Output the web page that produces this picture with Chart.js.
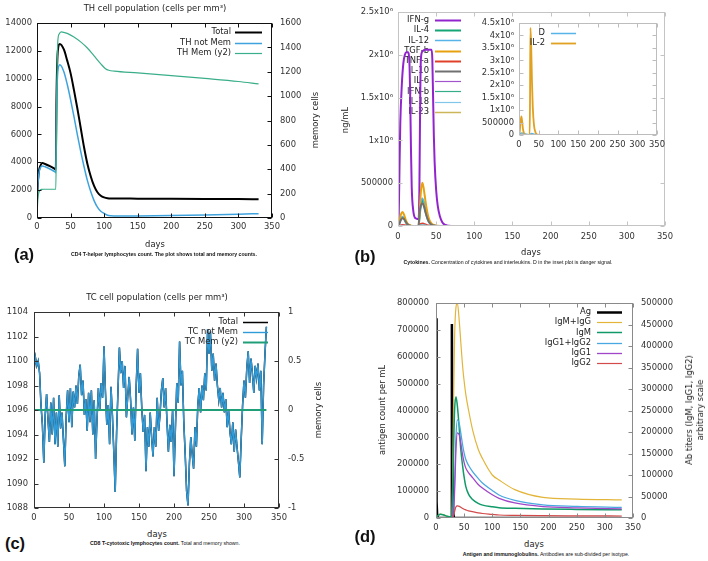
<!DOCTYPE html>
<html>
<head>
<meta charset="utf-8">
<title>C-ImmSim panels</title>
<script src="https://cdn.jsdelivr.net/npm/chart.js@4.4.1/dist/chart.umd.min.js"></script>
<style>
  body { margin: 0; background: #fff; width: 708px; height: 561px; position: relative; overflow: hidden; }
  canvas { position: absolute; }
  .lb { position: absolute; white-space: nowrap; transform: translate(-50%, -50%); font: 8.4px "DejaVu Sans", sans-serif; color: #222; }
  .rot { transform: translate(-50%, -50%) rotate(-90deg); text-align: center; line-height: 11px; }
  .pl { position: absolute; transform: translate(-50%, -50%); font: bold 16.5px "Liberation Sans", Arial, sans-serif; color: #111; }
  .cap { position: absolute; white-space: nowrap; transform: translate(-50%, -50%); font: 5.2px "Liberation Sans", Arial, sans-serif; color: #111; }
</style>
</head>
<body>

<canvas id="chA" width="310" height="240" style="left:0;top:0"></canvas>
<canvas id="chB" width="330" height="245" style="left:354px;top:0"></canvas>
<canvas id="chBin" width="200" height="145" style="left:470px;top:10px"></canvas>
<canvas id="chC" width="330" height="240" style="left:0;top:285px"></canvas>
<canvas id="chD" width="354" height="250" style="left:354px;top:285px"></canvas>

<!-- panel (a) texts -->
<div class="lb" style="left:155px;top:8px">TH cell population (cells per mm³)</div>
<div class="lb" style="left:155px;top:244px">days</div>
<div class="lb rot" style="left:315px;top:120px">memory cells</div>
<div class="pl" style="left:24px;top:254px">(a)</div>
<div class="cap" style="left:164px;top:254px"><b>CD4 T-helper lymphocytes count. The plot shows total and memory counts.</b></div>

<!-- panel (b) texts -->
<div class="lb" style="left:531px;top:252px">days</div>
<div class="lb rot" style="left:345px;top:120px">ng/mL</div>
<div class="pl" style="left:365px;top:256px">(b)</div>
<div class="cap" style="left:508px;top:262px"><b>Cytokines.</b> Concentration of cytokines and interleukins. D in the inset plot is danger signal.</div>

<!-- panel (c) texts -->
<div class="lb" style="left:157px;top:297px">TC cell population (cells per mm³)</div>
<div class="lb" style="left:157px;top:534px">days</div>
<div class="lb rot" style="left:318px;top:410px">memory cells</div>
<div class="pl" style="left:15px;top:543px">(c)</div>
<div class="cap" style="left:165px;top:543px"><b>CD8 T-cytotoxic lymphocytes count.</b> Total and memory shown.</div>

<!-- panel (d) texts -->
<div class="lb" style="left:534px;top:544px">days</div>
<div class="lb rot" style="left:382px;top:410px">antigen count per mL</div>
<div class="lb rot" style="left:695px;top:410px">Ab titers (IgM, IgG1, IgG2)<br>arbitrary scale</div>
<div class="pl" style="left:365px;top:536px">(d)</div>
<div class="cap" style="left:546px;top:554px"><b>Antigen and immunoglobulins.</b> Antibodies are sub-divided per isotype.</div>

<script>
// ---------- (a) TH cell population ----------
const thDays   = [0, 1, 3, 5, 8, 12, 20, 27, 28, 29, 31, 34, 40, 45, 50, 55, 60, 65, 70, 75, 80, 85, 90, 95, 100, 105, 110, 120, 150, 200, 250, 300, 330];
const thTotal  = [1300, 2300, 3400, 3750, 3950, 3880, 3700, 3500, 3450, 8500, 12000, 12500, 12100, 11300, 10400, 9200, 7900, 6500, 5100, 3900, 3000, 2300, 1850, 1600, 1480, 1420, 1400, 1395, 1390, 1380, 1370, 1360, 1350];
const thNotMem = [1300, 2200, 3250, 3600, 3730, 3680, 3500, 3300, 3250, 7500, 10500, 11000, 10500, 9600, 8500, 7300, 6000, 4800, 3700, 2700, 1900, 1250, 780, 480, 330, 200, 160, 140, 150, 180, 220, 270, 310];
const thMemDays = [0, 1, 2, 4, 7, 10, 28, 29, 30, 31, 33, 36, 45, 55, 65, 75, 85, 95, 102, 107, 115, 150, 200, 250, 300, 330];
const thMem     = [0, 130, 190, 225, 235, 236, 236, 700, 1200, 1450, 1510, 1528, 1515, 1485, 1445, 1395, 1330, 1265, 1225, 1212, 1205, 1190, 1168, 1145, 1120, 1100];

// ---------- (b) cytokines ----------
const ifngDays = [0, 1, 2, 3, 5, 7, 9, 11, 13, 15, 16, 17, 18, 20, 23, 27, 28, 29, 30, 32, 36, 40, 44, 45, 46, 47, 48, 50, 52, 55, 58, 62, 66, 70, 330];
const ifng     = [0, 150000, 700000, 1200000, 1650000, 1900000, 2000000, 2030000, 2030000, 1900000, 1500000, 900000, 450000, 180000, 90000, 80000, 400000, 1400000, 1950000, 2040000, 2060000, 2060000, 2060000, 1950000, 1500000, 1050000, 750000, 420000, 240000, 110000, 45000, 12000, 2000, 0, 0];
const cytoDays = [0, 2, 4, 6, 8, 10, 12, 15, 20, 27, 28, 30, 32, 34, 36, 38, 40, 43, 47, 52, 60, 330];
const il4  = [0, 40000, 85000, 100000, 85000, 50000, 22000, 7000, 0, 0, 80000, 250000, 305000, 260000, 175000, 110000, 60000, 22000, 5000, 1000, 0, 0];
const il12 = [0, 50000, 95000, 110000, 90000, 55000, 25000, 8000, 0, 0, 90000, 270000, 325000, 280000, 190000, 120000, 65000, 25000, 6000, 1000, 0, 0];
const tgfb = [0, 60000, 140000, 165000, 130000, 75000, 35000, 10000, 0, 0, 120000, 400000, 505000, 420000, 290000, 180000, 100000, 40000, 10000, 2000, 0, 0];
const tnfa = [0, 5000, 10000, 12000, 10000, 6000, 3000, 1000, 0, 0, 10000, 25000, 30000, 25000, 18000, 10000, 6000, 2000, 500, 0, 0, 0];
const il10 = [0, 30000, 75000, 90000, 80000, 50000, 25000, 8000, 0, 0, 140000, 240000, 265000, 230000, 160000, 100000, 55000, 20000, 5000, 1000, 0, 0];
const il6  = [0, 3000, 6000, 8000, 6000, 4000, 2000, 500, 0, 0, 6000, 15000, 18000, 15000, 10000, 6000, 3000, 1000, 0, 0, 0, 0];
const ifnb = [0, 2000, 4000, 5000, 4000, 2500, 1000, 300, 0, 0, 4000, 10000, 12000, 10000, 7000, 4000, 2000, 500, 0, 0, 0, 0];
const il18 = [0, 2000, 5000, 6000, 5000, 3000, 1500, 400, 0, 0, 5000, 12000, 15000, 12000, 8000, 5000, 2500, 800, 0, 0, 0, 0];
const il23 = [0, 1000, 2000, 3000, 2000, 1000, 500, 0, 0, 0, 2000, 5000, 6000, 5000, 3000, 2000, 1000, 0, 0, 0, 0, 0];
// inset
const il2Days = [0, 2, 4, 6, 8, 10, 13, 17, 27, 28, 29, 31, 33, 35, 38, 42, 47, 55, 330];
const il2     = [0, 150000, 550000, 750000, 550000, 250000, 60000, 5000, 0, 1500000, 4300000, 3500000, 2100000, 1100000, 400000, 100000, 15000, 0, 0];
const dDays   = [0, 3, 8, 15, 25, 28, 31, 36, 45, 60, 330];
const dSignal = [0, 60000, 80000, 40000, 10000, 5000, 60000, 40000, 8000, 0, 0];

// ---------- (c) TC cell population, one value every 2 days ----------
const tcNotMem = [
  1099.2, 1100.3, 1099.6, 1100.0, 1099.0, 1096.4, 1094.8, 1091.7, 1095.6, 1097.3,
  1095.2, 1093.4, 1096.6, 1094.0, 1097.0, 1093.2, 1095.8, 1093.0, 1097.2, 1094.5,
  1095.8, 1093.6, 1091.4, 1095.5, 1097.6, 1095.0, 1097.8, 1094.6, 1097.5, 1096.2,
  1098.0, 1096.5, 1098.8, 1099.7, 1097.2, 1098.4, 1095.6, 1096.9, 1094.3, 1097.4,
  1095.0, 1097.6, 1094.0, 1096.8, 1092.0, 1095.2, 1097.8, 1096.0, 1098.2, 1097.0,
  1101.2, 1097.6, 1094.8, 1096.4, 1093.2, 1097.9, 1095.6, 1092.6, 1089.3, 1094.2,
  1097.6, 1101.1, 1099.0, 1100.0, 1097.8, 1099.6, 1095.4, 1097.2, 1098.7, 1096.8,
  1094.0, 1096.2, 1093.5, 1098.0, 1101.0, 1097.4, 1099.0, 1096.1, 1094.2, 1095.6,
  1091.0, 1094.6, 1093.0, 1095.8, 1093.8, 1092.2, 1094.6, 1093.0, 1097.0, 1094.3,
  1095.6, 1097.6, 1098.6, 1096.2, 1097.8, 1095.0, 1092.6, 1094.8, 1093.4, 1096.0,
  1090.6, 1094.5, 1098.2, 1096.6, 1101.6, 1098.0, 1099.2, 1095.0, 1092.4, 1089.4,
  1088.2, 1091.6, 1093.8, 1092.4, 1091.2, 1094.6, 1093.0, 1096.4, 1097.8, 1095.8,
  1098.0, 1096.8, 1099.0, 1097.6, 1102.6, 1100.6, 1102.4, 1099.2, 1100.6, 1098.4,
  1099.8, 1098.0, 1096.8, 1097.8, 1096.2, 1097.4, 1095.8, 1096.9, 1094.6, 1096.0,
  1094.2, 1093.2, 1095.0, 1092.6, 1094.4, 1093.0, 1091.8, 1090.5, 1093.6, 1096.4,
  1098.4, 1097.0, 1099.4, 1100.8, 1098.2, 1100.2, 1099.0, 1097.4, 1099.6, 1098.6,
  1099.8, 1097.6, 1099.2, 1093.2, 1098.0, 1100.6, 1102.8
];
const tcDays = tcNotMem.map((v, i) => i * 2);
const tcTotal = tcNotMem;            // memory count is zero, so total = not-memory
const tcMemDays = [0, 332];
const tcMem = [0, 0];

// ---------- (d) antigen and immunoglobulins ----------
const agDays = [0, 0.5, 1, 1.5, 2, 3, 27.8, 28.2, 28.8, 29.5, 30.5, 32, 330];
const ag     = [743000, 480000, 200000, 60000, 12000, 0, 0, 722000, 420000, 120000, 20000, 0, 0];
const igDays = [0, 4, 8, 14, 20, 27, 29, 31, 33, 35.5, 38, 41.5, 44, 47.5, 50, 53, 58, 65, 75, 83, 100, 112, 140, 190, 250, 330];
const igSum  = [0, 6000, 9000, 7000, 4000, 2500, 40000, 250000, 420000, 490000, 500000, 455000, 410000, 350000, 318000, 287000, 250000, 205000, 160000, 137000, 100000, 88400, 66000, 48000, 44000, 42000];
const igm    = [0, 6000, 9000, 7000, 4000, 2500, 30000, 150000, 250000, 282000, 260000, 205000, 160000, 119000, 95000, 73000, 55000, 43000, 34000, 30000, 26000, 24000, 22500, 21000, 20000, 19000];
const igg12  = [0, 0, 0, 0, 0, 0, 2000, 20000, 80000, 190000, 228000, 218000, 198000, 168000, 151000, 136000, 122000, 108000, 92000, 80700, 64000, 53500, 41000, 30500, 27000, 24500];
const igg1   = [0, 0, 0, 0, 0, 0, 1500, 14000, 60000, 160000, 198000, 192000, 174000, 145000, 129000, 116000, 105000, 94000, 78000, 69000, 54000, 45800, 35000, 26500, 23500, 21000];
const igg2   = [0, 0, 0, 0, 0, 0, 500, 5000, 15000, 26000, 28000, 27000, 25000, 22000, 20500, 19000, 16500, 14700, 12000, 10500, 8500, 7000, 6000, 5300, 5000, 4700];

// ---------- helpers ----------
Chart.defaults.font.family = 'DejaVu Sans';
Chart.defaults.font.size = 8.4;
Chart.defaults.color = '#333';

function pts(xs, ys) {
    return xs.map((x, i) => ({ x: x, y: ys[i] }));
}

function series(label, xs, ys, color, width, axisId, extra) {
    return Object.assign({
        label: label,
        data: pts(xs, ys),
        borderColor: color,
        backgroundColor: color,
        borderWidth: width,
        pointRadius: 0,
        fill: false,
        cubicInterpolationMode: 'monotone',
        yAxisID: axisId || 'y'
    }, extra || {});
}

// fixed-size axis so the plot box lands where the reference has it
function axis(pos, min, max, step, size, pad, fmt) {
    return {
        type: 'linear',
        position: pos,
        min: min,
        max: max,
        grid: { display: false, drawTicks: false },
        border: { display: false },
        ticks: { stepSize: step, padding: pad, autoSkip: false, maxRotation: 0, callback: fmt || (v => String(v)) },
        afterFit: s => {
            if (pos === 'bottom') s.height = size;
            else s.width = size;
        }
    };
}

function sci(v) {
    if (v === 0) return '0';
    if (v < 1000000) return String(v);
    return (v / 1000000) + 'x10⁶';
}

// gnuplot-like border with inward tick marks on all sides
const gpFrame = {
    id: 'gpFrame',
    afterDraw(chart, args, opts) {
        const ctx = chart.ctx;
        const a = chart.chartArea;
        const len = opts.tick || 4;
        const L = Math.round(a.left) + 0.5, R = Math.round(a.right) - 0.5;
        const T = Math.round(a.top) + 0.5, B = Math.round(a.bottom) - 0.5;
        ctx.save();
        ctx.strokeStyle = opts.color || '#000';
        ctx.lineWidth = 1;
        ctx.beginPath();
        const sx = chart.scales.x;
        sx.ticks.forEach(t => {
            const p = Math.round(sx.getPixelForValue(t.value)) + 0.5;
            ctx.moveTo(p, B); ctx.lineTo(p, B - len);
            ctx.moveTo(p, T); ctx.lineTo(p, T + len);
        });
        const sy = chart.scales.y;
        const sy2 = chart.scales.y2;
        sy.ticks.forEach(t => {
            const p = Math.round(sy.getPixelForValue(t.value)) + 0.5;
            ctx.moveTo(L, p); ctx.lineTo(L + len, p);
            if (!sy2) { ctx.moveTo(R, p); ctx.lineTo(R - len, p); }
        });
        if (sy2) {
            sy2.ticks.forEach(t => {
                const p = Math.round(sy2.getPixelForValue(t.value)) + 0.5;
                ctx.moveTo(R, p); ctx.lineTo(R - len, p);
            });
        }
        ctx.stroke();
        ctx.strokeRect(L, T, R - L, B - T);
        ctx.restore();
    }
};

// gnuplot-like key: right-aligned label, sample line on its right
function drawKey(chart, o) {
    if (o.x === undefined) return;
    const ctx = chart.ctx;
    ctx.save();
    ctx.font = '8.4px "DejaVu Sans"';
    ctx.textAlign = 'right';
    ctx.textBaseline = 'middle';
    chart.data.datasets.forEach((ds, i) => {
        const y = o.y + i * o.dy;
        ctx.fillStyle = '#222';
        ctx.fillText(ds.label, o.x, y);
        ctx.strokeStyle = ds.borderColor;
        ctx.lineWidth = ds.keyWidth || ds.borderWidth;
        ctx.beginPath();
        ctx.moveTo(o.lx, Math.round(y) + 0.5);
        ctx.lineTo(o.lx + o.len, Math.round(y) + 0.5);
        ctx.stroke();
    });
    ctx.restore();
}

const gpKey = {
    id: 'gpKey',
    beforeDatasetsDraw(chart, args, opts) { if (opts.under) drawKey(chart, opts); },
    afterDatasetsDraw(chart, args, opts) { if (!opts.under) drawKey(chart, opts); }
};

Chart.register(gpFrame, gpKey);

function makeChart(id, datasets, scales, padding, frame, key) {
    // later series sit on top, as in gnuplot
    datasets.forEach((ds, i) => { ds.order = -i; });
    return new Chart(document.getElementById(id), {
        type: 'line',
        data: { datasets: datasets },
        options: {
            responsive: false,
            animation: false,
            layout: { padding: padding },
            plugins: {
                legend: { display: false },
                tooltip: { enabled: false },
                gpFrame: frame,
                gpKey: key
            },
            scales: scales
        }
    });
}

document.addEventListener('DOMContentLoaded', function() {
    // (a)
    makeChart('chA', [
        series('Total', thDays, thTotal, '#000000', 2),
        series('TH not Mem', thDays, thNotMem, '#3ea3dd', 1.5),
        series('TH Mem (y2)', thMemDays, thMem, '#3aae8a', 1.2, 'y2')
    ], {
        x: axis('bottom', 0, 350, 50, 22, 4),
        y: axis('left', 0, 14000, 2000, 37, 5),
        y2: axis('right', 0, 1600, 200, 38, 8)
    }, { top: 23, right: 0, left: 0, bottom: 0 }, { color: '#111' },
       { x: 231, lx: 235, len: 27, y: 32, dy: 10.5 });

    // (b) main
    makeChart('chB', [
        series('IFN-g', ifngDays, ifng, '#9124cc', 2),
        series('IL-4', cytoDays, il4, '#16a574', 2),
        series('IL-12', cytoDays, il12, '#56b4e9', 1.5),
        series('TGF-b', cytoDays, tgfb, '#e6a010', 2),
        series('TNF-a', cytoDays, tnfa, '#e0402a', 2),
        series('IL-10', cytoDays, il10, '#707070', 2),
        series('IL-6', cytoDays, il6, '#a055cc', 1.2),
        series('IFN-b', cytoDays, ifnb, '#36ad88', 1.2),
        series('IL-18', cytoDays, il18, '#80c6e8', 1.2),
        series('IL-23', cytoDays, il23, '#cdb55a', 1.5)
    ], {
        x: axis('bottom', 0, 350, 50, 19, 6),
        y: axis('left', 0, 2500000, 500000, 44, 5, sci)
    }, { top: 12, right: 19, left: 0, bottom: 0 }, { color: '#c4c4c4' },
       { x: 75, lx: 81, len: 26, y: 20, dy: 10.2, under: true });

    // (b) inset
    makeChart('chBin', [
        series('D', dDays, dSignal, '#56b4e9', 1.5),
        series('IL-2', il2Days, il2, '#e0a020', 1.8)
    ], {
        x: axis('bottom', 0, 350, 50, 20, 5),
        y: axis('left', 0, 4500000, 500000, 49, 5, sci)
    }, { top: 13, right: 11, left: 0, bottom: 0 }, { color: '#bdbdbd' },
       { x: 75, lx: 81, len: 25, y: 23, dy: 10 });

    // (c)
    makeChart('chC', [
        series('Total', tcDays, tcTotal, '#000000', 1.5, 'y', { cubicInterpolationMode: 'default', tension: 0 }),
        series('TC not Mem', tcDays, tcNotMem, '#2f9bd9', 1.4, 'y', { cubicInterpolationMode: 'default', tension: 0 }),
        series('TC Mem (y2)', tcMemDays, tcMem, '#1f9e78', 2, 'y2', { cubicInterpolationMode: 'default', tension: 0 })
    ], {
        x: axis('bottom', 0, 350, 50, 17, 5),
        y: axis('left', 1088, 1104, 2, 34, 6),
        y2: axis('right', -1, 1, 0.5, 51, 9)
    }, { top: 27, right: 0, left: 0, bottom: 0 }, { color: '#333' },
       { x: 238, lx: 243, len: 25, y: 37, dy: 10 });

    // (d)
    makeChart('chD', [
        series('Ag', agDays, ag, '#000000', 2.5, 'y', { cubicInterpolationMode: 'default', tension: 0 }),
        series('IgM+IgG', igDays, igSum, '#e2b53a', 1.2, 'y2'),
        series('IgM', igDays, igm, '#109a68', 1.5, 'y2'),
        series('IgG1+IgG2', igDays, igg12, '#4aa8e0', 1.3, 'y2'),
        series('IgG1', igDays, igg1, '#a046c8', 1.3, 'y2'),
        series('IgG2', igDays, igg2, '#d24a4a', 1.2, 'y2')
    ], {
        x: axis('bottom', 0, 350, 50, 17, 5),
        y: axis('left', 0, 800000, 100000, 82, 7),
        y2: axis('right', 0, 500000, 50000, 75, 8)
    }, { top: 18, right: 0, left: 0, bottom: 0 }, { color: '#8a8a8a' },
       { x: 237, lx: 243, len: 25, y: 27, dy: 10.2 });
});
</script>
</body>
</html>
